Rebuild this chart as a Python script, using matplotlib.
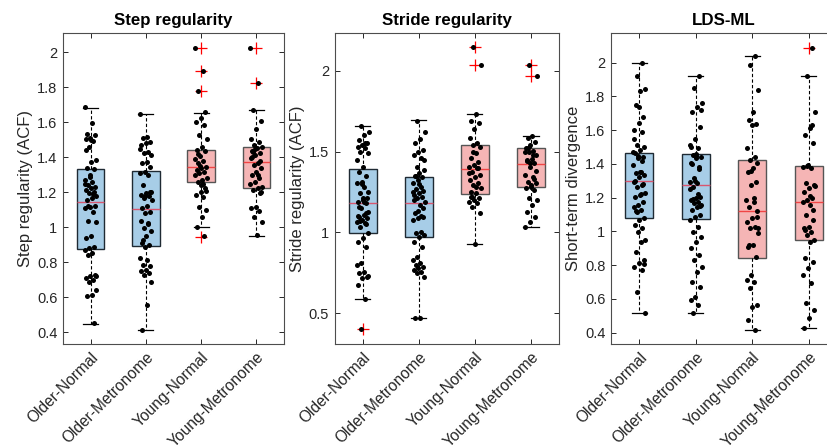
import numpy as np
import matplotlib
matplotlib.use("Agg")
import matplotlib.pyplot as plt
from matplotlib.ticker import FuncFormatter
from matplotlib.transforms import ScaledTranslation

plt.rcParams['font.family'] = ['Liberation Sans', 'DejaVu Sans']

groups = ["Older-Normal", "Older-Metronome", "Young-Normal", "Young-Metronome"]
titles = ["Step regularity", "Stride regularity", "LDS-ML"]
ylabels = ["Step regularity (ACF)", "Stride regularity (ACF)", "Short-term divergence"]

# ---- box statistics (per panel, per group) ----
step_med = [1.143, 1.103, 1.343, 1.371]
step_q1 = [0.878, 0.891, 1.259, 1.227]
step_q3 = [1.333, 1.324, 1.440, 1.459]
step_wlo = [0.450, 0.413, 1.000, 0.952]
step_whi = [1.684, 1.646, 1.655, 1.670]
step_fliers = [[], [], [2.027, 1.893, 1.779, 0.947], [2.023, 1.823]]

stride_med = [1.179, 1.183, 1.395, 1.426]
stride_q1 = [0.996, 0.973, 1.236, 1.279]
stride_q3 = [1.395, 1.345, 1.543, 1.519]
stride_wlo = [0.587, 0.469, 0.926, 1.035]
stride_whi = [1.655, 1.692, 1.731, 1.596]
stride_fliers = [[0.400], [], [2.144, 2.033], [2.037, 1.969]]

lds_med = [1.297, 1.276, 1.120, 1.172]
lds_q1 = [1.077, 1.073, 0.843, 0.951]
lds_q3 = [1.467, 1.460, 1.426, 1.386]
lds_wlo = [0.517, 0.514, 0.416, 0.426]
lds_whi = [1.996, 1.919, 2.040, 1.923]
lds_fliers = [[], [], [], [2.089]]

# ---- individual points ----
step_on = [1.686, 1.594, 1.531, 1.527, 1.509, 1.503, 1.495, 1.461, 1.385, 1.375, 1.337, 1.331,
           1.286, 1.271, 1.261, 1.242, 1.229, 1.223, 1.214, 1.204, 1.195, 1.176, 1.166, 1.157,
           1.119, 1.115, 1.109, 1.085, 1.033, 1.028, 0.948, 0.938, 0.890, 0.881, 0.871, 0.852,
           0.843, 0.728, 0.719, 0.709, 0.700, 0.690, 0.643, 0.614, 0.605, 0.452,
           1.30, 1.25, 1.19, 1.12, 0.72, 1.50, 1.44]
step_om = [1.646, 1.518, 1.508, 1.489, 1.480, 1.470, 1.432, 1.423, 1.413, 1.375, 1.366, 1.347,
           1.318, 1.309, 1.299, 1.242, 1.204, 1.195, 1.185, 1.176, 1.166, 1.157, 1.119, 1.109,
           1.090, 1.081, 1.033, 1.024, 0.995, 0.976, 0.948, 0.910, 0.900, 0.890, 0.824, 0.814,
           0.786, 0.776, 0.757, 0.748, 0.738, 0.728, 0.690, 0.557, 0.414,
           1.20, 1.18, 1.45, 1.02, 0.93]
step_yn = [2.026, 1.895, 1.779, 1.657, 1.626, 1.603, 1.585, 1.527, 1.505, 1.461, 1.442, 1.433,
           1.409, 1.390, 1.378, 1.366, 1.346, 1.337, 1.327, 1.318, 1.308, 1.280, 1.271, 1.261,
           1.223, 1.204, 1.185, 1.171, 1.118, 1.099, 1.061, 1.003, 0.950,
           1.35, 1.30, 1.25, 1.42, 1.21, 1.24]
step_ym = [2.023, 1.823, 1.669, 1.607, 1.560, 1.505, 1.486, 1.470, 1.461, 1.451, 1.436, 1.423,
           1.413, 1.394, 1.366, 1.356, 1.337, 1.318, 1.299, 1.280, 1.261, 1.232, 1.223, 1.213,
           1.194, 1.118, 1.109, 1.094, 1.061, 1.032, 0.956,
           1.40, 1.38, 1.45, 1.25, 1.30, 1.43, 1.20]

stride_on = [1.658, 1.623, 1.603, 1.572, 1.555, 1.541, 1.530, 1.520, 1.500, 1.489, 1.407, 1.376,
             1.349, 1.314, 1.304, 1.283, 1.242, 1.211, 1.201, 1.190, 1.180, 1.149, 1.128, 1.108,
             1.097, 1.087, 1.077, 1.066, 1.056, 1.036, 0.995, 0.964, 0.943, 0.912, 0.809, 0.799,
             0.757, 0.747, 0.726, 0.716, 0.675, 0.587, 0.400,
             1.25, 1.19, 1.16, 1.12, 1.30, 1.45, 1.55, 1.07, 0.73, 1.21, 1.10, 1.05]
stride_om = [1.689, 1.623, 1.576, 1.551, 1.510, 1.499, 1.479, 1.458, 1.407, 1.386, 1.366, 1.349,
             1.341, 1.324, 1.304, 1.279, 1.267, 1.258, 1.242, 1.232, 1.221, 1.211, 1.190, 1.170,
             1.118, 1.097, 1.087, 1.077, 1.005, 0.995, 0.984, 0.974, 0.943, 0.912, 0.850, 0.830,
             0.809, 0.799, 0.788, 0.778, 0.768, 0.758, 0.747, 0.726, 0.469, 0.470,
             1.15, 1.13, 1.25, 1.10, 1.35, 1.45, 1.30, 1.20]
stride_yn = [2.144, 2.033, 1.731, 1.689, 1.675, 1.640, 1.586, 1.551, 1.541, 1.530, 1.489, 1.458,
             1.438, 1.417, 1.407, 1.397, 1.376, 1.355, 1.345, 1.324, 1.304, 1.294, 1.273, 1.242,
             1.221, 1.211, 1.201, 1.190, 1.180, 1.159, 1.118, 0.927,
             1.25, 1.40, 1.50, 1.37, 1.28, 1.22]
stride_ym = [2.037, 1.969, 1.598, 1.582, 1.561, 1.541, 1.520, 1.504, 1.496, 1.479, 1.454, 1.442,
             1.428, 1.407, 1.355, 1.345, 1.314, 1.304, 1.294, 1.273, 1.263, 1.211, 1.201, 1.170,
             1.128, 1.097, 1.067, 1.036,
             1.48, 1.52, 1.38, 1.28, 1.45, 1.33, 1.43, 1.50]

lds_on = [1.996, 1.921, 1.842, 1.834, 1.749, 1.680, 1.641, 1.601, 1.591, 1.512, 1.502, 1.483,
          1.463, 1.443, 1.433, 1.394, 1.354, 1.345, 1.335, 1.325, 1.295, 1.275, 1.265, 1.226,
          1.216, 1.206, 1.176, 1.157, 1.147, 1.127, 1.117, 1.078, 1.068, 1.038, 1.019, 0.999,
          0.949, 0.939, 0.880, 0.831, 0.811, 0.791, 0.772, 0.643, 0.515,
          1.35, 1.30, 1.28, 1.45, 1.47, 1.22, 1.12, 0.81, 1.74, 1.55, 1.42]
lds_om = [1.919, 1.848, 1.759, 1.739, 1.710, 1.621, 1.546, 1.512, 1.493, 1.453, 1.443, 1.433,
          1.404, 1.384, 1.315, 1.295, 1.285, 1.265, 1.206, 1.196, 1.186, 1.176, 1.167, 1.157,
          1.147, 1.127, 1.097, 1.087, 1.068, 1.028, 0.999, 0.969, 0.939, 0.900, 0.860, 0.831,
          0.791, 0.761, 0.702, 0.673, 0.613, 0.594, 0.564, 0.515,
          1.72, 1.45, 1.40, 1.37, 1.30, 1.25, 1.22, 1.19, 1.15, 1.46, 1.50]
lds_yn = [2.040, 1.986, 1.838, 1.710, 1.660, 1.635, 1.631, 1.493, 1.443, 1.423, 1.404, 1.374,
          1.354, 1.295, 1.275, 1.186, 1.176, 1.147, 1.087, 1.078, 1.058, 1.028, 1.019, 0.989,
          0.920, 0.910, 0.850, 0.742, 0.712, 0.702, 0.663, 0.564, 0.554, 0.475, 0.416,
          1.36, 1.02, 1.20, 0.92, 1.12]
lds_ym = [2.089, 1.923, 1.710, 1.611, 1.572, 1.522, 1.394, 1.384, 1.374, 1.285, 1.275, 1.256,
          1.236, 1.196, 1.186, 1.176, 1.157, 1.097, 1.068, 1.028, 1.019, 0.999, 0.979, 0.949,
          0.939, 0.841, 0.821, 0.782, 0.742, 0.693, 0.574, 0.534, 0.485, 0.426,
          1.63, 1.39, 1.27, 1.21, 1.01, 1.13]

panels = [
    dict(med=step_med, q1=step_q1, q3=step_q3, wlo=step_wlo, whi=step_whi, fl=step_fliers,
         pts=[step_on, step_om, step_yn, step_ym]),
    dict(med=stride_med, q1=stride_q1, q3=stride_q3, wlo=stride_wlo, whi=stride_whi, fl=stride_fliers,
         pts=[stride_on, stride_om, stride_yn, stride_ym]),
    dict(med=lds_med, q1=lds_q1, q3=lds_q3, wlo=lds_wlo, whi=lds_whi, fl=lds_fliers,
         pts=[lds_on, lds_om, lds_yn, lds_ym]),
]

ylims = [(0.333, 2.11), (0.31, 2.233), (0.333, 2.176)]
yticks = [np.arange(0.4, 2.01, 0.2), [0.5, 1.0, 1.5, 2.0], np.arange(0.4, 2.01, 0.2)]
positions = [
    [63 / 827, 103 / 447, 221 / 827, 311 / 447],
    [334.7 / 827, 103 / 447, 224.3 / 827, 311 / 447],
    [611 / 827, 103 / 447, 226 / 827, 311 / 447],
]

face_colors = ['#a7cde7', '#a7cde7', '#f5b5b5', '#f5b5b5']
edge_colors = ['#1f2a33', '#1f2a33', '#555555', '#555555']
med_colors = ['#d8566f', '#d8566f', '#f04545', '#f04545']

fig = plt.figure(figsize=(8.27, 4.47), dpi=100)
text_col = '#262626'
shift = ScaledTranslation(4 / 100, -5 / 100, fig.dpi_scale_trans)

for k, p in enumerate(panels):
    ax = fig.add_axes(positions[k])
    stats = []
    for i in range(4):
        stats.append(dict(med=p['med'][i], q1=p['q1'][i], q3=p['q3'][i],
                          whislo=p['wlo'][i], whishi=p['whi'][i], fliers=p['fl'][i],
                          label=groups[i]))
    bp = ax.bxp(stats, positions=[1, 2, 3, 4], widths=0.5, patch_artist=True,
                showfliers=True, capwidths=0.27,
                whiskerprops=dict(color='black', linestyle=(0, (3, 2)), linewidth=0.8),
                capprops=dict(color='black', linewidth=0.9),
                flierprops=dict(marker='+', markeredgecolor='red', markersize=8,
                                markeredgewidth=0.9, linestyle='none'),
                medianprops=dict(linewidth=1.0))
    for i in range(4):
        bp['boxes'][i].set_facecolor(face_colors[i])
        bp['boxes'][i].set_edgecolor(edge_colors[i])
        bp['boxes'][i].set_linewidth(1.0)
        bp['medians'][i].set_color(med_colors[i])
    for i in range(4):
        vals = np.asarray(p['pts'][i])
        n = len(vals)
        jit = (((np.arange(n) * 0.6180339887) + 0.37 * k) % 1.0 - 0.5) * 0.22
        ax.plot(i + 1 + jit, vals, 'o', color='black', markersize=3.6,
                markeredgewidth=0, zorder=5)

    ax.set_xlim(0.5, 4.5)
    ax.set_ylim(*ylims[k])
    ax.set_yticks(yticks[k])
    ax.yaxis.set_major_formatter(FuncFormatter(lambda v, pos: ('%g' % round(v, 2))))
    ax.set_xticks([1, 2, 3, 4])
    ax.set_xticklabels(groups, rotation=45, ha='right', rotation_mode='anchor',
                       fontsize=11.2, color=text_col)
    for lab in ax.get_xticklabels():
        lab.set_transform(lab.get_transform() + shift)
    ax.tick_params(axis='y', labelsize=10.5)
    ax.tick_params(direction='in', top=True, right=True, length=3.5, width=0.7,
                   colors=text_col, pad=4)
    for s in ax.spines.values():
        s.set_color('#4d4d4d')
        s.set_linewidth(0.8)
    ax.set_title(titles[k], fontsize=12.2, fontweight='bold', pad=6)
    ax.set_ylabel(ylabels[k], fontsize=12, color=text_col, labelpad=3)

fig.savefig('out.png', dpi=100)
